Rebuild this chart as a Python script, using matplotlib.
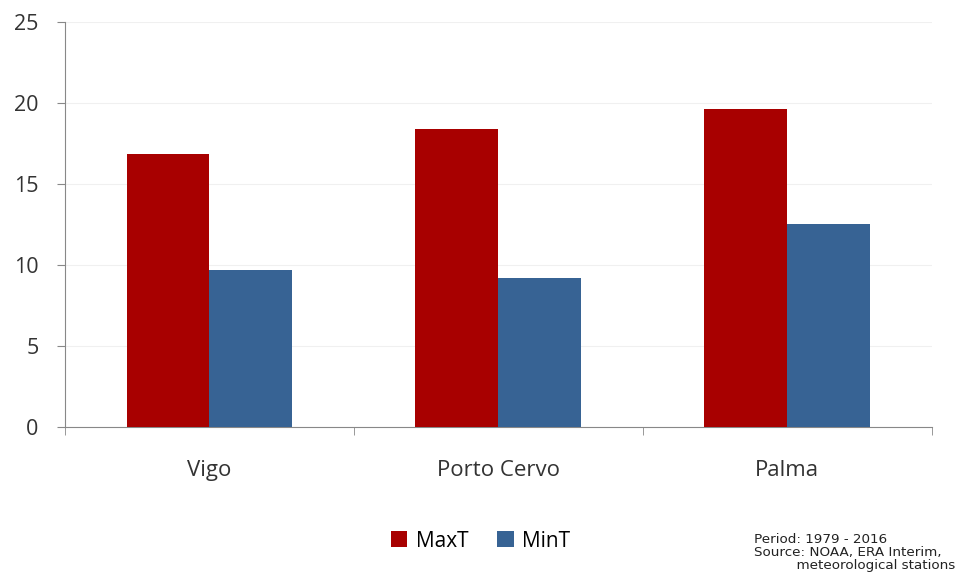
import numpy as np
import matplotlib.pyplot as plt

plt.rcParams['font.family'] = ['Open Sans', 'DejaVu Sans']

cities = ['Vigo', 'Porto Cervo', 'Palma']
max_t = [16.85, 18.4, 19.63]
min_t = [9.69, 9.2, 12.53]
y_ticks = [0, 5, 10, 15, 20, 25]

red = '#a80000'
blue = '#376394'

fig = plt.figure(figsize=(9.61, 5.75), dpi=100)
ax = fig.add_axes([0.0676, 0.2574, 0.902, 0.7043])

x = np.arange(len(cities))
w = 0.287
ax.bar(x - w / 2, max_t, w, color=red, label='MaxT', zorder=3)
ax.bar(x + w / 2, min_t, w, color=blue, label='MinT', zorder=3)

ax.set_xlim(-0.5, 2.5)
ax.set_ylim(0, 25)
ax.set_yticks(y_ticks)
ax.grid(axis='y', color='#f0f0f0', linewidth=0.8, zorder=0)

ax.set_xticks(x)
ax.set_xticklabels(cities, fontsize=16, color='#333333')
ax.set_xticks([-0.5, 0.5, 1.5, 2.5], minor=True)
ax.tick_params(axis='x', which='major', length=0, pad=24)
ax.tick_params(axis='x', which='minor', length=6, color='#888888')
ax.tick_params(axis='y', labelsize=15.5, length=6, color='#888888', labelcolor='#333333', pad=13)

for s in ['top', 'right']:
    ax.spines[s].set_visible(False)
for s in ['left', 'bottom']:
    ax.spines[s].set_color('#888888')

fig.legend(loc='center', bbox_to_anchor=(0.5, 0.059), ncol=2, frameon=False,
           fontsize=15, handlelength=0.8, handleheight=0.8, handletextpad=0.4,
           columnspacing=1.4)

fig.text(0.785, 0.073, 'Period: 1979 - 2016\nSource: NOAA, ERA Interim,\n'
         '          meteorological stations',
         fontsize=9.7, family='DejaVu Sans', va='top', ha='left',
         color='#222222', linespacing=1.0)

fig.savefig('out.png', dpi=100)
